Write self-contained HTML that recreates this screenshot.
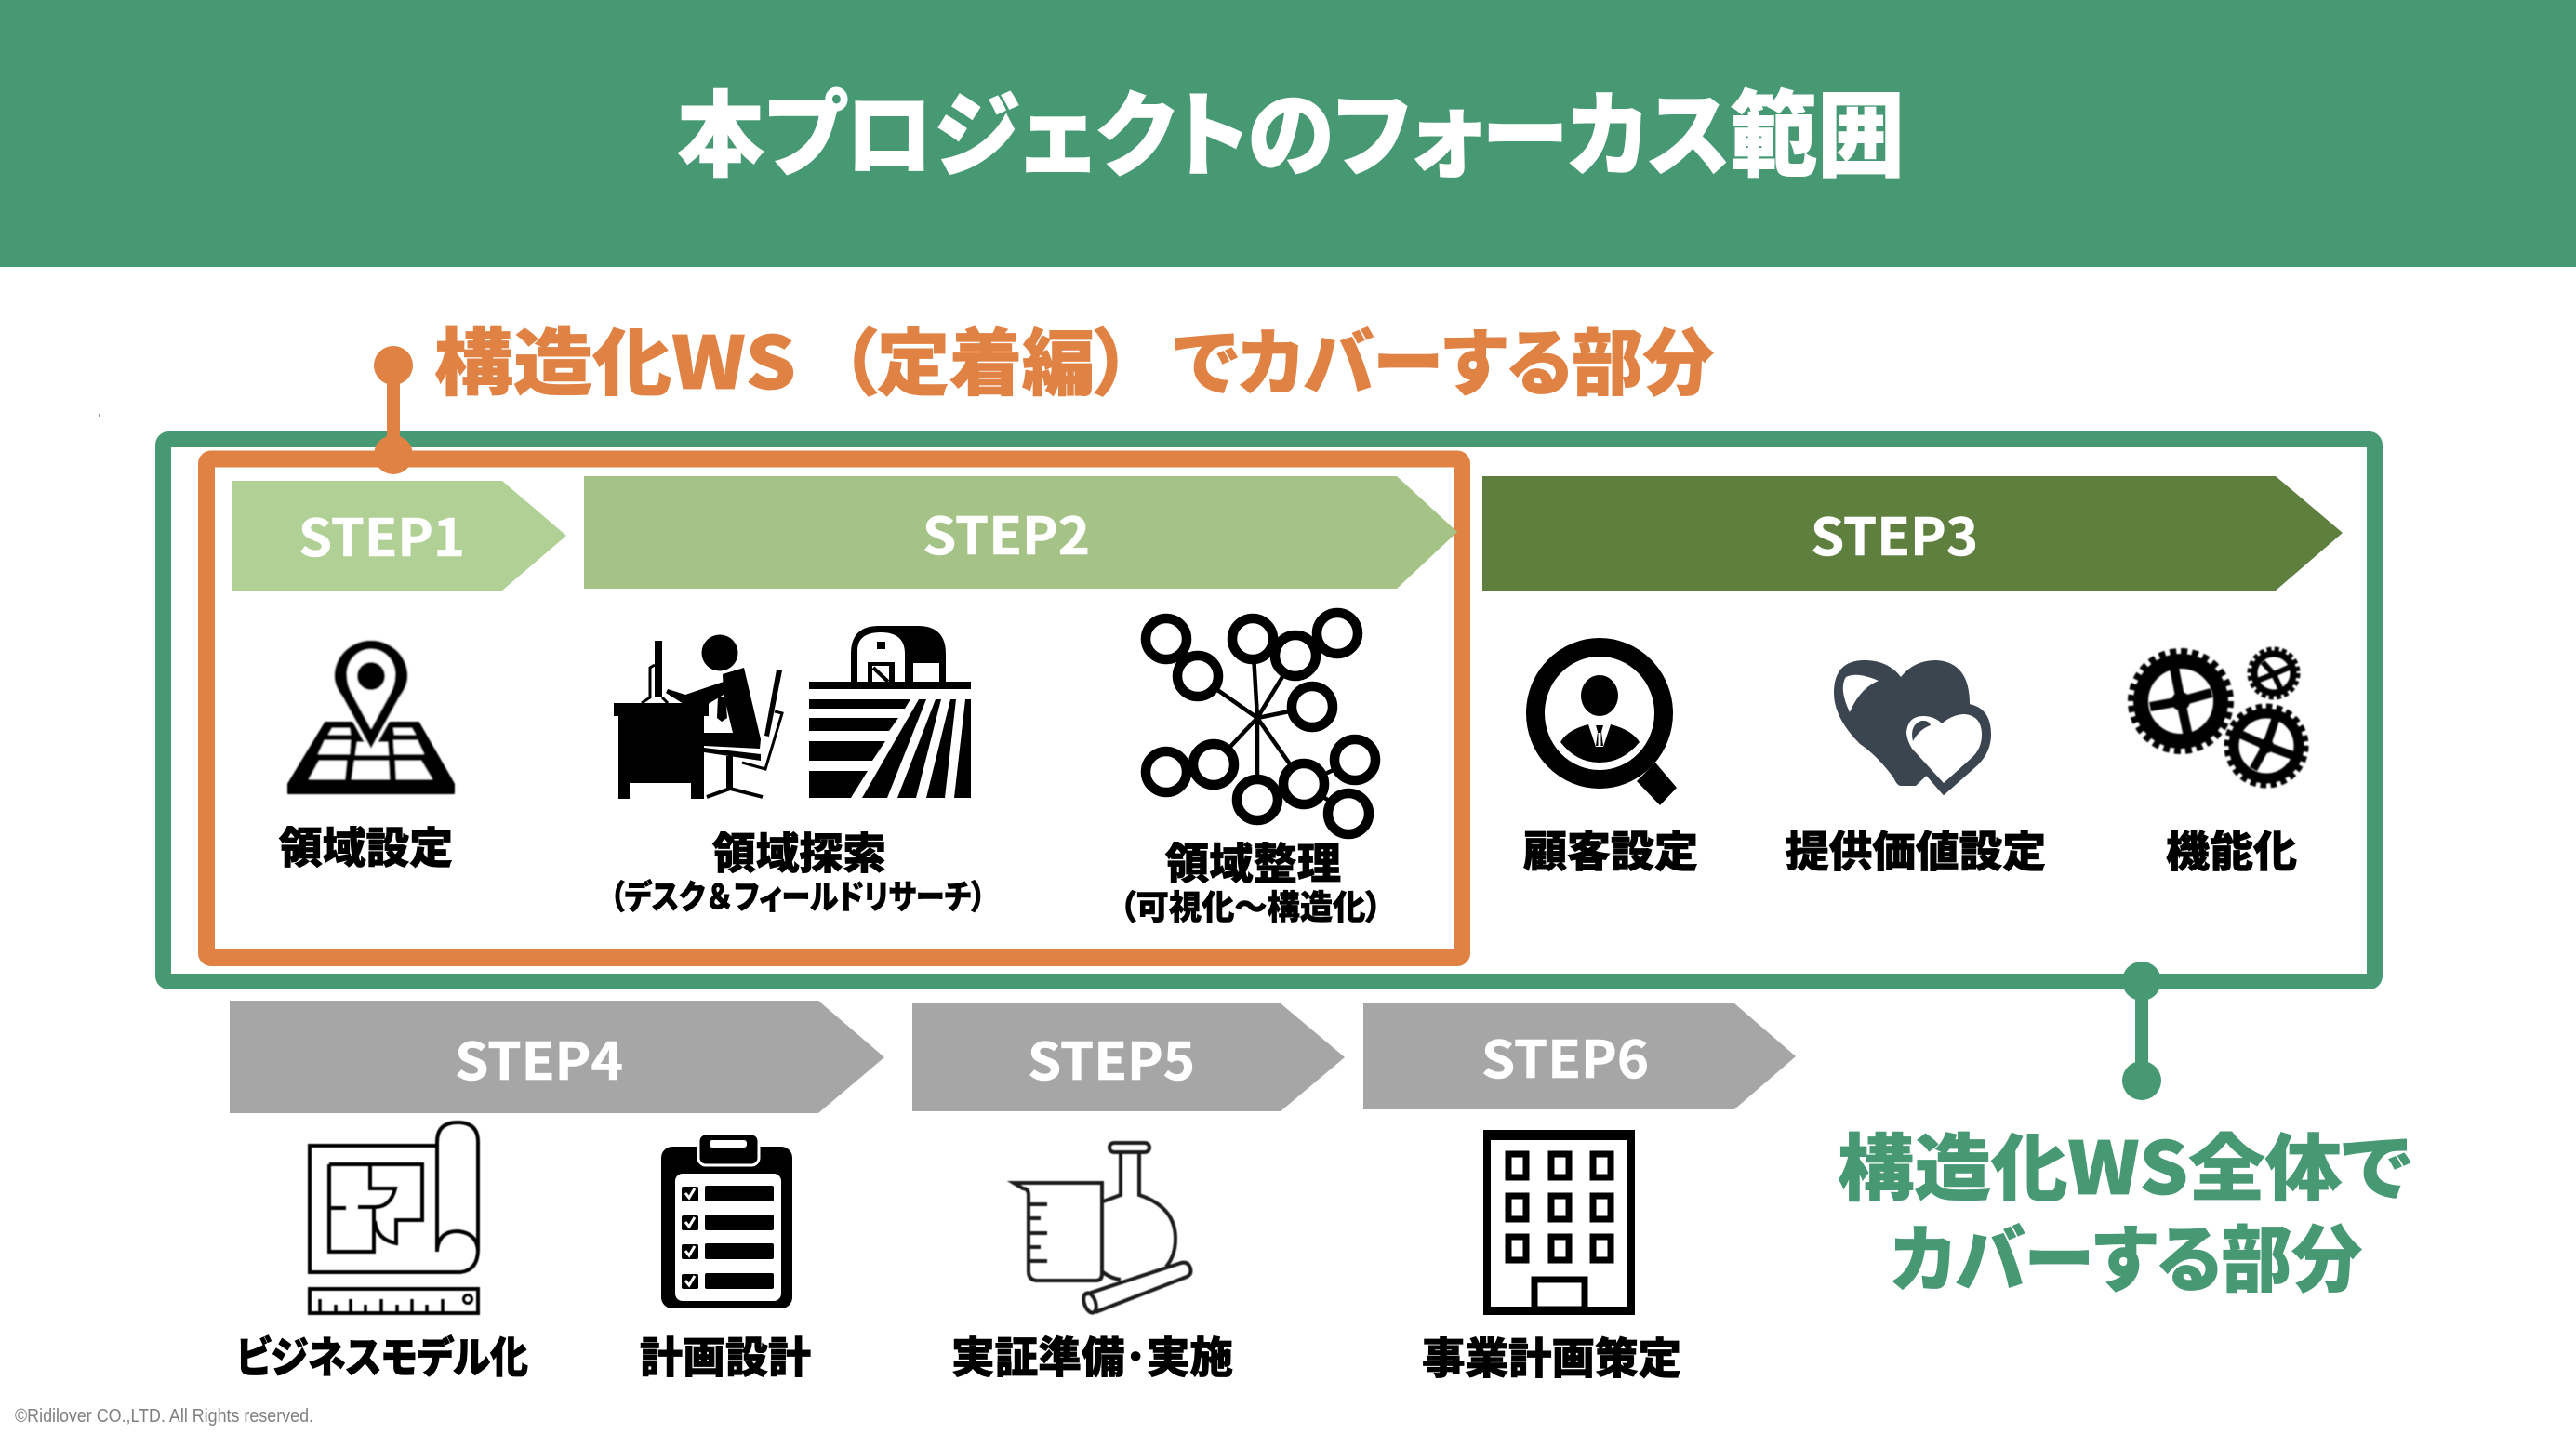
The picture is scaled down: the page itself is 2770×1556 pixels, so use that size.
<!DOCTYPE html>
<html lang="ja"><head><meta charset="utf-8"><title>本プロジェクトのフォーカス範囲</title>
<style>
html,body{margin:0;padding:0;background:#fff;width:2770px;height:1556px;overflow:hidden}
svg{display:block}
text{font-family:"Noto Sans CJK JP","Liberation Sans",sans-serif;font-weight:900;font-feature-settings:"palt";}
.s{font-weight:700;font-size:55px;fill:#fff;stroke:#fff;stroke-width:.6;font-feature-settings:normal}
.l{font-size:46px;fill:#000;stroke:#000;stroke-width:.8}
.m{font-size:36px;fill:#000;stroke:#000;stroke-width:.6}
.o{font-size:78px;fill:#E08244;stroke:#E08244;stroke-width:.8}
</style></head><body>
<svg width="2770" height="1556" viewBox="0 0 2770 1556" xmlns="http://www.w3.org/2000/svg">
<defs><filter id="b" x="-5%" y="-5%" width="110%" height="110%"><feGaussianBlur stdDeviation="0.9"/></filter>
<filter id="c" x="-5%" y="-5%" width="110%" height="110%"><feGaussianBlur stdDeviation="0.5"/></filter></defs>
<rect x="0" y="0" width="2770" height="287" fill="#479974"/>
<text x="728" y="181" font-size="100" fill="#fff" stroke="#fff" stroke-width="1" textLength="1320" lengthAdjust="spacingAndGlyphs">本プロジェクトのフォーカス範囲</text>

<text class="o" x="467" y="418" textLength="389" lengthAdjust="spacingAndGlyphs">構造化WS</text>
<text class="o" x="904" y="418" textLength="312" lengthAdjust="spacingAndGlyphs">（定着編）</text>
<text class="o" x="1262" y="418" textLength="581" lengthAdjust="spacingAndGlyphs">でカバーする部分</text>
<rect x="106" y="445" width="1" height="3" fill="#999"/>

<!-- frames -->
<rect x="175.5" y="472.5" width="2378" height="583" rx="6" fill="#fff" stroke="#479974" stroke-width="17"/>
<rect x="222" y="493.5" width="1350" height="536.5" rx="5" fill="#fff" stroke="#E08244" stroke-width="18"/>

<!-- pins -->
<line x1="423" y1="393" x2="423" y2="489" stroke="#E08244" stroke-width="14"/>
<circle cx="423" cy="393" r="21" fill="#E08244"/>
<circle cx="423" cy="489" r="21" fill="#E08244"/>
<line x1="2303" y1="1055" x2="2303" y2="1162" stroke="#479974" stroke-width="14"/>
<circle cx="2303" cy="1055" r="21" fill="#479974"/>
<circle cx="2303" cy="1162" r="21" fill="#479974"/>

<!-- arrows -->
<polygon points="249,517 540,517 609,576 540,635 249,635" fill="#B0D095"/>
<polygon points="628,512 1502,512 1567,572 1502,633 628,633" fill="#A5C387"/>
<polygon points="1594,512 2447,512 2519,573 2447,635 1594,635" fill="#5F7F3E"/>
<polygon points="247,1076 880,1076 951,1137 880,1197 247,1197" fill="#A6A6A6"/>
<polygon points="981,1079 1377,1079 1446,1137 1377,1195 981,1195" fill="#A6A6A6"/>
<polygon points="1466,1079 1865,1079 1931,1136 1865,1193 1466,1193" fill="#A6A6A6"/>
<text class="s" x="321" y="598" textLength="179" lengthAdjust="spacingAndGlyphs">STEP1</text>
<text class="s" x="992" y="596" textLength="180" lengthAdjust="spacingAndGlyphs">STEP2</text>
<text class="s" x="1947" y="597" textLength="180" lengthAdjust="spacingAndGlyphs">STEP3</text>
<text class="s" x="489" y="1161" textLength="181" lengthAdjust="spacingAndGlyphs">STEP4</text>
<text class="s" x="1105" y="1161" textLength="180" lengthAdjust="spacingAndGlyphs">STEP5</text>
<text class="s" x="1593" y="1159" textLength="180" lengthAdjust="spacingAndGlyphs">STEP6</text>

<!-- map pin -->
<g filter="url(#b)">
<polygon points="350,777 450,777 488,843 488,853 310,853 310,843" fill="#000" stroke="#000" stroke-width="2" stroke-linejoin="round"/>
<g fill="#fff">
<polygon points="357,783 376,783 377,790 353,790"/><polygon points="423,783 443,783 447,790 424,790"/>
<polygon points="349,796 377,796 376,811 342,811"/><polygon points="384,798 417,798 418,812 382,812"/><polygon points="423,796 449,796 456,811 424,811"/>
<polygon points="343,818 373,818 371,838 332,838"/><polygon points="381,818 418,818 419,838 378,838"/><polygon points="425,818 453,818 465,838 426,838"/>
</g>
<path d="M399 808 L367 750 Q358 738 358 727 A41 40 0 0 1 440 727 Q440 738 431 750 Z" fill="#000" stroke="#fff" stroke-width="3"/>
<path d="M399 784 L379 747 Q373 737 373 725 A26 27 0 0 1 425 725 Q425 737 419 747 Z" fill="#fff"/>
<circle cx="399" cy="727" r="15" fill="#000"/>
</g>

<!-- desk person -->
<g fill="#000">
<circle cx="774" cy="702" r="19.5"/>
<polygon points="777,725 800,718 818,795 817,805 757,802 757,788 788,788 778,747"/>
<polygon points="778,733 737,747 718,741 716,745 735,757 760,758 778,747"/>
<polygon points="772,749 780,749 782,772 776,776 771,772"/>
<rect x="660" y="756" width="102" height="14"/>
<rect x="665" y="770" width="92" height="72"/>
<rect x="665" y="842" width="12" height="17"/><rect x="743" y="842" width="14" height="17"/>
<rect x="704" y="689" width="8" height="60"/>
<polygon points="835,720 841,721 827,792 822,791"/>
<polygon points="757,804 818,811 818,818 757,809"/>
<rect x="781" y="813" width="7" height="35"/>
</g>
<g fill="none" stroke="#000">
<polyline points="704,715 699,718 699,750 690,756" stroke-width="3"/>
<polyline points="712,750 718,756" stroke-width="3"/>
<polyline points="833,765 841,767 823,827 798,820" stroke-width="3"/>
<polyline points="760,857 785,848 820,857" stroke-width="4"/>
</g>

<!-- barn -->
<g fill="#000">
<rect x="870" y="733" width="174" height="8"/>
<path d="M915 733 V703 Q915 673 945 673 H987 Q1017 673 1017 703 V733 Z"/>
<path d="M922 733 V700 Q922 680 947 680 Q973 680 973 703 V733 Z" fill="#fff"/>
<rect x="982" y="713" width="28" height="20" fill="#fff"/>
<rect x="943" y="690" width="9" height="8"/>
<rect x="933" y="712" width="29" height="21"/>
<rect x="938" y="716" width="18" height="17" fill="#fff"/>
<line x1="939" y1="718" x2="955" y2="733" stroke="#000" stroke-width="4"/>
<polygon points="870,752 979,752 973,762 870,762"/>
<polygon points="870,772 966,772 956,786 870,786"/>
<polygon points="870,797 952,797 938,818 870,818"/>
<polygon points="870,829 933,829 915,858 870,858"/>
<polygon points="988,752 996,752 954,858 927,858"/>
<polygon points="1006,752 1012,752 985,858 965,858"/>
<polygon points="1022,752 1028,752 1016,858 996,858"/>
<polygon points="1038,752 1044,752 1044,858 1026,858"/>
</g>

<!-- network -->
<g stroke="#000" fill="#fff">
<g stroke-width="4.5" fill="none">
<line x1="1352" y1="772" x2="1288" y2="727"/><line x1="1352" y1="772" x2="1347" y2="687"/><line x1="1352" y1="772" x2="1393" y2="705"/>
<line x1="1352" y1="772" x2="1411" y2="760"/><line x1="1352" y1="772" x2="1305" y2="822"/><line x1="1352" y1="772" x2="1352" y2="860"/><line x1="1352" y1="772" x2="1402" y2="843"/>
<line x1="1402" y1="843" x2="1457" y2="817"/><line x1="1402" y1="843" x2="1450" y2="875"/>
</g>
<g stroke-width="10.5">
<circle cx="1254" cy="687" r="22"/><circle cx="1288" cy="727" r="22"/><circle cx="1347" cy="687" r="22"/><circle cx="1393" cy="705" r="22"/><circle cx="1438" cy="681" r="22"/><circle cx="1411" cy="760" r="22"/>
<circle cx="1254" cy="830" r="22"/><circle cx="1305" cy="822" r="22"/><circle cx="1352" cy="860" r="22"/><circle cx="1402" cy="843" r="22"/><circle cx="1457" cy="817" r="22"/><circle cx="1450" cy="875" r="22"/>
</g>
</g>

<!-- magnifier -->
<g>
<polygon points="1780,820 1803,847 1785,866 1760,840" fill="#000"/>
<ellipse cx="1720" cy="767" rx="69" ry="71" fill="#fff" stroke="#000" stroke-width="20"/>
<ellipse cx="1720" cy="748" rx="20" ry="22" fill="#000"/>
<path d="M1678 798 Q1685 785 1708 779 L1732 779 Q1755 785 1763 798 Q1745 820 1720 820 Q1695 820 1678 798 Z" fill="#000"/>
<polygon points="1708,779 1716,803 1724,803 1732,779" fill="#fff"/>
<polygon points="1716,780 1724,780 1722,787 1724,802 1716,802 1718,787" fill="#000"/>
<rect x="1718.5" y="788" width="3" height="15" fill="#fff"/>
</g>

<!-- hearts -->
<path d="M2044 845 Q2040 845 2036 836 Q2018 812 2000 800 Q1972 772 1972 745 Q1972 710 2005 710 Q2030 710 2044 728 Q2058 710 2082 710 Q2118 712 2118 757 L2118 790 L2060 845 Z" fill="#3B4550"/>
<path d="M1989 766 Q1977 740 1985 728 Q1997 722 2020 732 Q2000 740 1989 766 Z" fill="#fff"/>
<path d="M2090 854 L2050 808 Q2044 795 2045 785 Q2050 765 2068 765 Q2080 765 2088 772 Q2102 757 2117 758 Q2140 762 2140 790 Q2140 808 2126 822 Z" fill="#3B4550" stroke="#3B4550" stroke-width="2" stroke-linejoin="round"/>
<path d="M2090 842 L2056 805 Q2050 795 2050 787 Q2052 770 2068 770 Q2080 770 2088 778 Q2100 768 2113 768 Q2131 770 2131 790 Q2131 805 2120 815 Z" fill="#fff"/>
<path d="M2057 797 Q2053 780 2066 775 Q2074 774 2076 780 Q2064 784 2057 797 Z" fill="#3B4550"/>

<!-- gears -->
<g fill="none" stroke="#000" filter="url(#b)">
<circle cx="2345" cy="754" r="53.5" stroke-width="7" stroke-dasharray="7 5"/>
<circle cx="2345" cy="754" r="43" stroke-width="16"/>
<path d="M2338 718 L2345 754 M2378 745 L2345 754 M2353 792 L2345 754 M2312 760 L2345 754" stroke-width="10"/>
<circle cx="2345" cy="754" r="10" fill="#000" stroke="none"/>
<circle cx="2445" cy="724" r="26" stroke-width="5" stroke-dasharray="5 3.2"/>
<circle cx="2445" cy="724" r="21" stroke-width="7"/>
<path d="M2433 712 L2445 725 M2463 717 L2445 725 M2452 740 L2445 725 M2427 732 L2445 725" stroke-width="6"/>
<circle cx="2437" cy="802" r="42.5" stroke-width="6" stroke-dasharray="6.5 4.6"/>
<circle cx="2437" cy="802" r="35" stroke-width="11"/>
<path d="M2447 773 L2437 802 M2467 813 L2437 802 M2423 827 L2437 802 M2410 790 L2437 802" stroke-width="9"/>
<circle cx="2437" cy="802" r="8" fill="#000" stroke="none"/>
</g>

<!-- blueprint -->
<g fill="none" stroke="#000" stroke-width="4" filter="url(#c)">
<path d="M468 1232 H333 V1368 H495 Q514 1366 514 1343 V1228 Q514 1207 492 1207 Q470 1207 470 1228 V1346"/>
<path d="M470 1344 Q472 1324 492 1324 Q513 1326 514 1345"/>
<path d="M354 1252 H454 V1312 H426 V1337 Q405 1333 403 1313"/>
<path d="M398 1252 V1278 H425 Q420 1298 403 1298 H385 M372 1299 H354"/>
<path d="M402 1300 V1346 H354 V1252"/>
<rect x="333" y="1386" width="181" height="26"/>
<path d="M344 1410 V1397 M361 1410 V1403 M377 1410 V1397 M393 1410 V1403 M410 1410 V1397 M427 1410 V1403 M443 1410 V1397 M459 1410 V1403 M476 1410 V1397" stroke-width="3.5"/>
<circle cx="503" cy="1397" r="4.5" stroke-width="3"/>
</g>

<!-- clipboard -->
<g>
<rect x="711" y="1233" width="141" height="174" rx="12" fill="#000"/>
<rect x="751" y="1219" width="65" height="34" rx="8" fill="#000" stroke="#fff" stroke-width="3"/>
<rect x="763" y="1226" width="40" height="8" rx="3" fill="#fff"/>
<rect x="726" y="1262" width="114" height="137" rx="8" fill="#fff"/>
<g fill="#000">
<rect x="758" y="1275" width="74" height="17" rx="2"/><rect x="758" y="1306" width="74" height="17" rx="2"/><rect x="758" y="1337" width="74" height="17" rx="2"/><rect x="758" y="1369" width="74" height="17" rx="2"/>
<rect x="733" y="1276" width="18" height="16" rx="2"/><rect x="733" y="1307" width="18" height="16" rx="2"/><rect x="733" y="1338" width="18" height="16" rx="2"/><rect x="733" y="1370" width="18" height="16" rx="2"/>
</g>
<g fill="none" stroke="#fff" stroke-width="3"><path d="M737 1283 L741 1288 L747 1278M737 1314 L741 1319 L747 1309M737 1345 L741 1350 L747 1340M737 1377 L741 1382 L747 1372"/></g>
</g>

<!-- flask -->
<g fill="none" stroke="#1c1c1c" stroke-width="4" filter="url(#c)">
<path d="M1090 1272 H1185 V1370 Q1185 1377 1178 1377 H1116 Q1106 1377 1106 1367 V1285 Q1106 1278 1100 1278 Z"/>
<path d="M1106 1295 H1126 M1106 1310 H1119 M1106 1326 H1126 M1106 1341 H1119 M1106 1356 H1126"/>
<rect x="1193" y="1229" width="43" height="10" rx="5"/>
<path d="M1205 1240 V1285 L1186 1292 M1225 1240 V1285 Q1264 1298 1264 1332 Q1264 1350 1254 1362 M1186 1368 Q1195 1375 1205 1376"/>
<path d="M1167 1392 L1270 1358 Q1278 1356 1280 1364 Q1282 1370 1276 1373 L1178 1411"/>
<ellipse cx="1172" cy="1401" rx="6" ry="11" transform="rotate(-20 1172 1401)"/>
</g>

<!-- building -->
<g fill="none" stroke="#000">
<rect x="1599" y="1219" width="155" height="191" stroke-width="8"/>
<rect x="1595" y="1215" width="163" height="11" fill="#000" stroke="none"/>
<rect x="1595" y="1405" width="163" height="9" fill="#000" stroke="none"/>
<g stroke-width="7">
<rect x="1622" y="1241" width="19" height="25"/><rect x="1668" y="1241" width="19" height="25"/><rect x="1713" y="1241" width="19" height="25"/>
<rect x="1622" y="1286" width="19" height="25"/><rect x="1668" y="1286" width="19" height="25"/><rect x="1713" y="1286" width="19" height="25"/>
<rect x="1622" y="1330" width="19" height="25"/><rect x="1668" y="1330" width="19" height="25"/><rect x="1713" y="1330" width="19" height="25"/>
<rect x="1650" y="1376" width="54" height="32"/>
</g>
</g>

<!-- labels -->
<text class="l" x="300" y="928" textLength="187" lengthAdjust="spacingAndGlyphs">領域設定</text>
<text class="l" x="766" y="934" textLength="187" lengthAdjust="spacingAndGlyphs">領域探索</text>
<text class="m" x="656" y="977" textLength="404" lengthAdjust="spacingAndGlyphs">（デスク<tspan style="font-feature-settings:normal">＆</tspan>フィールドリサーチ）</text>
<text class="l" x="1253" y="945" textLength="189" lengthAdjust="spacingAndGlyphs">領域整理</text>
<text class="m" x="1204" y="988" textLength="282" lengthAdjust="spacingAndGlyphs">（可視化～構造化）</text>
<text class="l" x="1638" y="932" textLength="188" lengthAdjust="spacingAndGlyphs">顧客設定</text>
<text class="l" x="1920" y="932" textLength="280" lengthAdjust="spacingAndGlyphs">提供価値設定</text>
<text class="l" x="2329" y="932" textLength="141" lengthAdjust="spacingAndGlyphs">機能化</text>
<text class="l" x="254" y="1476" textLength="314" lengthAdjust="spacingAndGlyphs">ビジネスモデル化</text>
<text class="l" x="688" y="1476" textLength="184" lengthAdjust="spacingAndGlyphs">計画設計</text>
<text class="l" x="1023" y="1476" textLength="303" lengthAdjust="spacingAndGlyphs">実証準備･実施</text>
<text class="l" x="1529" y="1477" textLength="279" lengthAdjust="spacingAndGlyphs">事業計画策定</text>

<text x="1976" y="1284" font-size="78" fill="#479974" stroke="#479974" stroke-width=".8" textLength="617" lengthAdjust="spacingAndGlyphs">構造化WS全体で</text>
<text x="2033" y="1382" font-size="78" fill="#479974" stroke="#479974" stroke-width=".8" textLength="507" lengthAdjust="spacingAndGlyphs">カバーする部分</text>

<text x="16" y="1529" style="font-family:'Liberation Sans',sans-serif;font-weight:400;font-feature-settings:normal" font-size="20" fill="#7f7f7f" textLength="321" lengthAdjust="spacingAndGlyphs">©Ridilover CO.,LTD. All Rights reserved.</text>
</svg>
</body></html>
